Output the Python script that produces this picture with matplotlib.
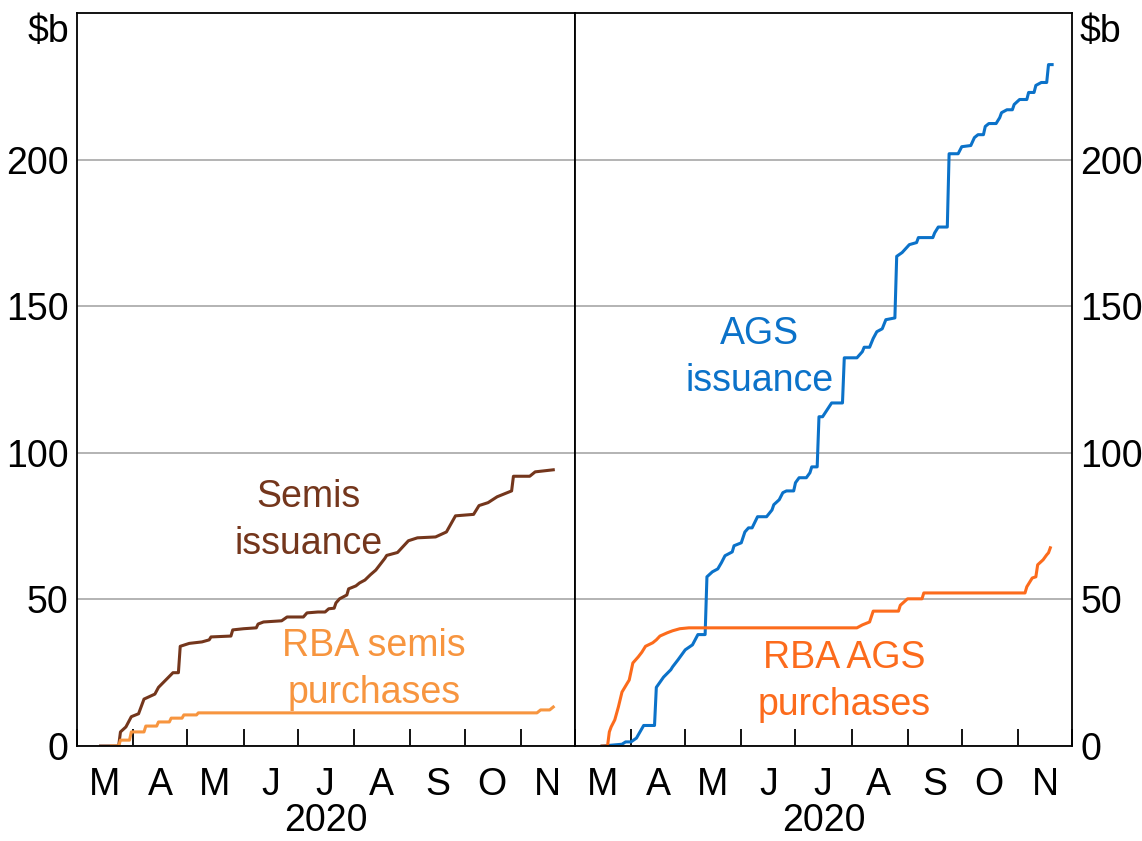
import numpy as np
import pandas as pd
import matplotlib
matplotlib.use('Agg')
from matplotlib import pyplot as plt
import matplotlib.dates as mdates

SIZE = 27
plt.rc('font', family=['Liberation Sans', 'DejaVu Sans'])
plt.rc('font', size=SIZE)

#   Data (cumulative, $b)
semis_issuance = [
    ('2020-03-14', 0), ('2020-03-24', 0), ('2020-03-25', 4.8), ('2020-03-28', 6.5),
    ('2020-03-31', 10), ('2020-04-04', 11), ('2020-04-07', 16), ('2020-04-13', 17.7),
    ('2020-04-15', 20), ('2020-04-19', 22.5), ('2020-04-23', 25), ('2020-04-26', 25),
    ('2020-04-27', 34), ('2020-05-02', 35), ('2020-05-09', 35.5), ('2020-05-13', 36.2),
    ('2020-05-14', 37.2), ('2020-05-25', 37.5), ('2020-05-26', 39.6), ('2020-06-01', 40),
    ('2020-06-08', 40.3), ('2020-06-09', 41.6), ('2020-06-12', 42.3), ('2020-06-22', 42.7),
    ('2020-06-25', 44), ('2020-07-04', 44), ('2020-07-06', 45.4), ('2020-07-12', 45.7),
    ('2020-07-16', 45.7), ('2020-07-18', 46.8), ('2020-07-21', 47), ('2020-07-22', 48.8),
    ('2020-07-24', 50.2), ('2020-07-28', 51.5), ('2020-07-29', 53.6), ('2020-08-02', 54.6),
    ('2020-08-04', 55.6), ('2020-08-07', 56.6), ('2020-08-10', 58.4), ('2020-08-13', 60),
    ('2020-08-18', 64), ('2020-08-19', 65), ('2020-08-25', 66), ('2020-08-31', 70),
    ('2020-09-05', 71), ('2020-09-15', 71.3), ('2020-09-21', 73), ('2020-09-26', 78.5),
    ('2020-10-06', 79), ('2020-10-09', 82), ('2020-10-14', 83), ('2020-10-19', 85),
    ('2020-10-27', 87), ('2020-10-28', 92), ('2020-11-06', 92), ('2020-11-09', 93.5),
    ('2020-11-19', 94.2),
]
semis_purchases = [
    ('2020-03-20', 0), ('2020-03-24', 0), ('2020-03-25', 2), ('2020-03-30', 2),
    ('2020-03-31', 4.8), ('2020-04-07', 4.8), ('2020-04-08', 6.8), ('2020-04-14', 6.8),
    ('2020-04-15', 8.2), ('2020-04-21', 8.2), ('2020-04-22', 9.5), ('2020-04-28', 9.5),
    ('2020-04-29', 10.6), ('2020-05-06', 10.6), ('2020-05-07', 11.3), ('2020-11-10', 11.3),
    ('2020-11-12', 12.3), ('2020-11-17', 12.3), ('2020-11-19', 13.3),
]
ags_issuance = [
    ('2020-03-16', 0), ('2020-03-27', 0.6), ('2020-03-29', 1.4), ('2020-04-01', 1.4),
    ('2020-04-04', 2.7), ('2020-04-08', 7), ('2020-04-14', 7), ('2020-04-15', 20),
    ('2020-04-19', 23.5), ('2020-04-23', 26), ('2020-04-24', 27), ('2020-04-27', 29.4),
    ('2020-05-01', 32.8), ('2020-05-05', 34.5), ('2020-05-08', 38), ('2020-05-12', 38),
    ('2020-05-13', 57.7), ('2020-05-16', 59.4), ('2020-05-19', 60.4), ('2020-05-21', 62.5),
    ('2020-05-23', 64.9), ('2020-05-27', 66.2), ('2020-05-28', 68.3), ('2020-06-01', 69.3),
    ('2020-06-03', 73), ('2020-06-05', 74.4), ('2020-06-07', 74.4), ('2020-06-10', 78.2),
    ('2020-06-15', 78.2), ('2020-06-18', 80.5), ('2020-06-19', 82.3), ('2020-06-22', 84),
    ('2020-06-24', 86.4), ('2020-06-26', 87), ('2020-06-30', 87), ('2020-07-01', 89.8),
    ('2020-07-03', 91.5), ('2020-07-07', 91.5), ('2020-07-09', 93.2), ('2020-07-10', 95.2),
    ('2020-07-13', 95.2), ('2020-07-14', 112.3), ('2020-07-16', 112.3), ('2020-07-21', 117),
    ('2020-07-27', 117), ('2020-07-28', 132.4), ('2020-08-04', 132.4), ('2020-08-07', 134.5),
    ('2020-08-08', 136), ('2020-08-11', 136), ('2020-08-13', 139), ('2020-08-15', 141.3),
    ('2020-08-18', 142.3), ('2020-08-20', 145.4), ('2020-08-25', 146), ('2020-08-26', 167),
    ('2020-08-29', 168.3), ('2020-09-02', 171), ('2020-09-06', 171.7), ('2020-09-07', 173.4),
    ('2020-09-15', 173.4), ('2020-09-16', 175), ('2020-09-18', 177), ('2020-09-23', 177),
    ('2020-09-24', 202), ('2020-09-29', 202), ('2020-10-01', 204.4), ('2020-10-06', 204.8),
    ('2020-10-08', 207.5), ('2020-10-10', 208.5), ('2020-10-13', 208.5), ('2020-10-14', 211.3),
    ('2020-10-16', 212.3), ('2020-10-20', 212.3), ('2020-10-22', 214.3), ('2020-10-23', 216),
    ('2020-10-26', 217), ('2020-10-29', 217), ('2020-10-30', 218.8), ('2020-11-02', 220.5),
    ('2020-11-06', 220.5), ('2020-11-07', 222.9), ('2020-11-10', 222.9), ('2020-11-11', 225.3),
    ('2020-11-14', 226.3), ('2020-11-17', 226.3), ('2020-11-18', 232.4), ('2020-11-20', 232.4),
]
ags_purchases = [
    ('2020-03-16', 0), ('2020-03-19', 0), ('2020-03-20', 4.8), ('2020-03-21', 6.5),
    ('2020-03-23', 8.9), ('2020-03-25', 13.3), ('2020-03-27', 18.4), ('2020-03-30', 21.5),
    ('2020-03-31', 22.5), ('2020-04-02', 28.3), ('2020-04-05', 30.4), ('2020-04-07', 32),
    ('2020-04-09', 34), ('2020-04-13', 35.2), ('2020-04-15', 36.2), ('2020-04-17', 37.5),
    ('2020-04-21', 38.6), ('2020-04-24', 39.3), ('2020-04-28', 40), ('2020-05-03', 40.3),
    ('2020-08-04', 40.3), ('2020-08-07', 41.3), ('2020-08-11', 42.3), ('2020-08-13', 46),
    ('2020-08-27', 46), ('2020-08-28', 48), ('2020-09-01', 50.2), ('2020-09-09', 50.2),
    ('2020-09-10', 52.2), ('2020-11-05', 52.2), ('2020-11-06', 54.3), ('2020-11-09', 57.3),
    ('2020-11-11', 57.7), ('2020-11-12', 61.8), ('2020-11-15', 63.5), ('2020-11-17', 65.2),
    ('2020-11-18', 65.9), ('2020-11-19', 67.6),
]

y_ticks = [0, 50, 100, 150, 200]
y_unit = '$b'
month_letters = ['M', 'A', 'M', 'J', 'J', 'A', 'S', 'O', 'N']

BROWN = '#74361c'
LIGHT_ORANGE = '#f7953f'
BLUE = '#0b72c9'
ORANGE = '#fc6b1c'


def series(data):
    d = pd.to_datetime([p[0] for p in data])
    v = np.array([p[1] for p in data], dtype=float)
    return d, v


def style_axis(ax):
    ax.set_yticks(y_ticks)
    ax.yaxis.grid(True, color='#b3b3b3', linewidth=1.4)
    ax.set_axisbelow(True)
    ax.tick_params(axis='y', length=0, pad=6)
    # month boundaries: inward ticks; letters centred mid-month
    ax.xaxis.set_major_locator(mdates.MonthLocator())
    ax.xaxis.set_major_formatter(plt.NullFormatter())
    mid = pd.date_range('2020-03-01', periods=9, freq='MS') + pd.Timedelta(days=15)
    ax.set_xticks(mid, minor=True)
    ax.set_xticklabels(month_letters, minor=True)
    ax.tick_params(axis='x', which='major', direction='in', length=12, width=1.3)
    ax.tick_params(axis='x', which='minor', length=0, pad=15)
    ax.set_xlabel('2020', labelpad=0)
    ax.set_xlim(pd.Timestamp('2020-03-01'), pd.Timestamp('2020-12-01'))
    ax.set_ylim(0, 250)
    for s in ax.spines.values():
        s.set_linewidth(1.3)
        s.set_color('black')
    return ax


fig = plt.figure(figsize=(11.42, 8.41), dpi=100)
ax1 = fig.add_axes([77 / 1142, 95 / 841, 498 / 1142, 733 / 841])
ax2 = fig.add_axes([575 / 1142, 95 / 841, 497 / 1142, 733 / 841])

style_axis(ax1)
style_axis(ax2)
ax2.yaxis.tick_right()
ax2.tick_params(axis='y', length=0, pad=6)

ax1.text(-0.016, 0.999, y_unit, transform=ax1.transAxes, ha='right', va='top')
ax2.text(1.016, 0.999, y_unit, transform=ax2.transAxes, ha='left', va='top')

d, v = series(semis_issuance)
ax1.plot(d, v, color=BROWN, linewidth=2.2)
d, v = series(semis_purchases)
ax1.plot(d, v, color=LIGHT_ORANGE, linewidth=2.2)
d, v = series(ags_issuance)
ax2.plot(d, v, color=BLUE, linewidth=2.2)
d, v = series(ags_purchases)
ax2.plot(d, v, color=ORANGE, linewidth=2.2)

ax1.text(pd.Timestamp('2020-07-07'), 77, 'Semis\nissuance', color=BROWN,
         ha='center', va='center', linespacing=1.4)
ax1.text(pd.Timestamp('2020-08-12'), 26, 'RBA semis\npurchases', color=LIGHT_ORANGE,
         ha='center', va='center', linespacing=1.4)
ax2.text(pd.Timestamp('2020-06-11'), 132.5, 'AGS\nissuance', color=BLUE,
         ha='center', va='center', linespacing=1.4)
ax2.text(pd.Timestamp('2020-07-28'), 22, 'RBA AGS\npurchases', color=ORANGE,
         ha='center', va='center', linespacing=1.4)

fig.savefig('out.png', dpi=100)
